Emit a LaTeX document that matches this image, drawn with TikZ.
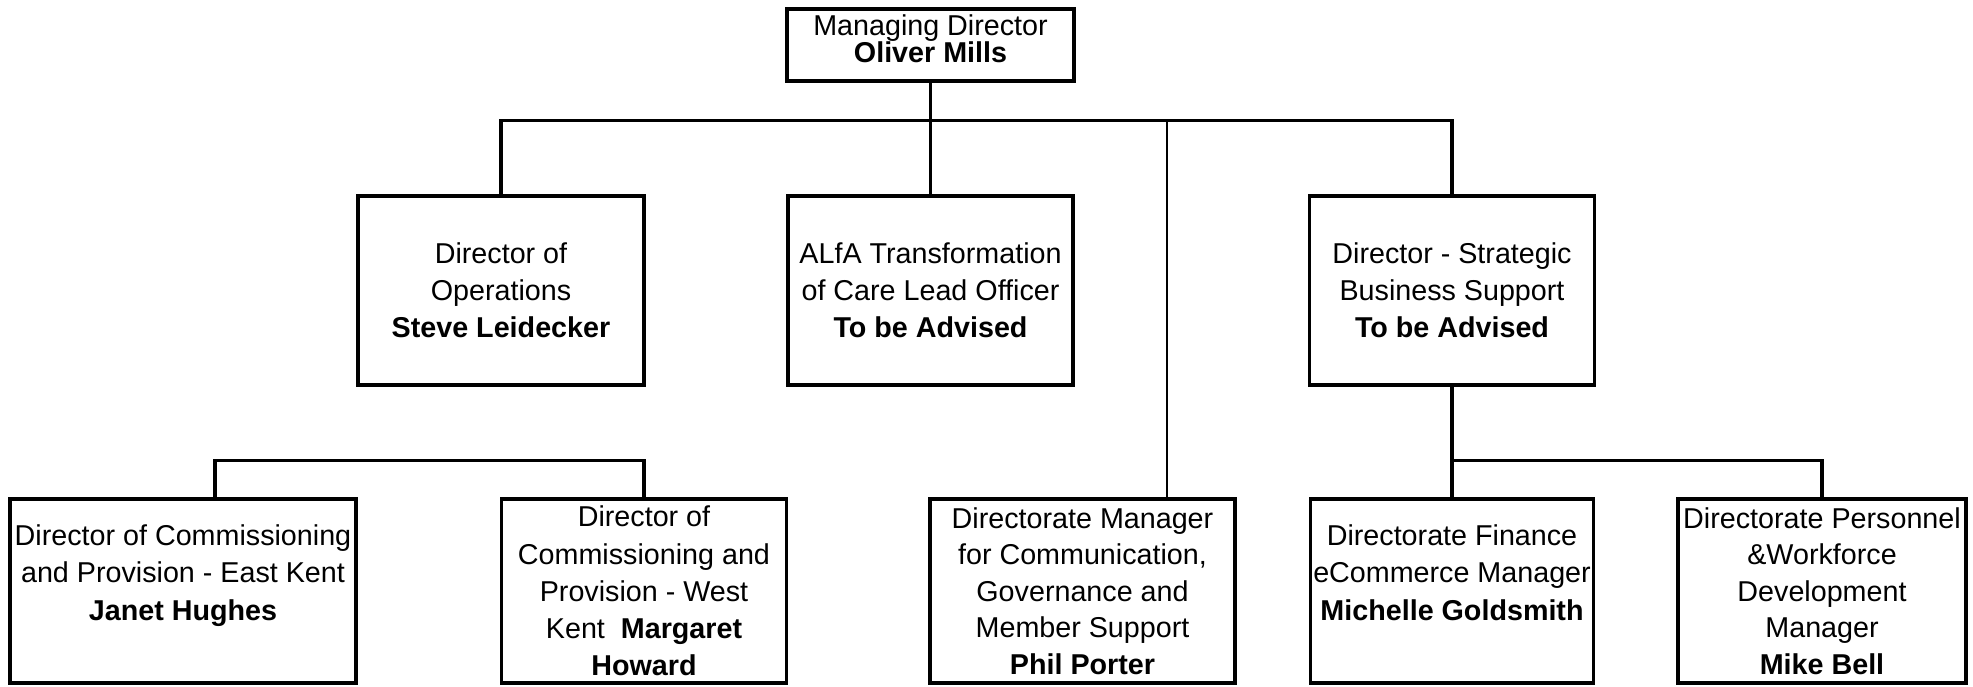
\documentclass[tikz,border=0pt]{standalone}
\usepackage{fontspec}
\setmainfont{Liberation Sans}
\begin{document}
\begin{tikzpicture}[x=0.5pt,y=-0.5pt,
  orgbox/.style={draw, line width=1.9pt, align=center, inner sep=0pt, outer sep=0pt,
    font=\fontsize{14.35}{18.6}\selectfont},
  conn/.style={line width=1.6pt, line join=miter},
  thinconn/.style={line width=1.1pt}]
\useasboundingbox (0,0) rectangle (1973,686);
% top
\node[orgbox, minimum width=143.5pt, minimum height=36pt, text depth=6.5pt,
  font=\fontsize{14.35}{13.8}\selectfont] (md) at (930.5,45)
  {Managing Director\\\textbf{Oliver Mills}};
% second row
\node[orgbox, minimum width=143pt, minimum height=94.5pt] (ops) at (501,290.5)
  {Director of\\Operations\\\textbf{Steve Leidecker}};
\node[orgbox, minimum width=142.5pt, minimum height=94.5pt] (alfa) at (930.5,290.5)
  {ALfA Transformation\\of Care Lead Officer\\\textbf{To be Advised}};
\node[orgbox, minimum width=142.5pt, minimum height=94.5pt] (dsbs) at (1452,290.5)
  {Director - Strategic\\Business Support\\\textbf{To be Advised}};
% bottom row
\node[orgbox, minimum width=173pt, minimum height=92pt] (jh) at (183,591)
  {Director of Commissioning\\and Provision - East Kent\\\textbf{Janet Hughes}\\\mbox{}};
\node[orgbox, minimum width=142.5pt, minimum height=92pt] (mh) at (644,591)
  {Director of\\Commissioning and\\Provision - West\\Kent\ \ \textbf{Margaret}\\\textbf{Howard}};
\node[orgbox, minimum width=152.5pt, minimum height=92pt, font=\fontsize{14.35}{18.3}\selectfont] (pp) at (1082.5,591)
  {Directorate Manager\\for Communication,\\Governance and\\Member Support\\\textbf{Phil Porter}};
\node[orgbox, minimum width=141.5pt, minimum height=92pt] (mg) at (1452,591)
  {Directorate Finance\\eCommerce Manager\\\textbf{Michelle Goldsmith}\\\mbox{}};
\node[orgbox, minimum width=144pt, minimum height=92pt, font=\fontsize{14.35}{18.3}\selectfont] (mb) at (1822,591)
  {Directorate Personnel\\\&Workforce\\Development\\Manager\\\textbf{Mike Bell}};
% connector coordinates
\coordinate (bar1) at (930.5,120.7);
\coordinate (ppc) at (1167,120.7);
\coordinate (lbL) at (215,460.7);
\coordinate (bar3) at (1452,460.7);
% connectors
\draw[conn] (md.south) -- (md.south |- bar1);
\draw[conn] (ops.north) -- (ops.north |- bar1) -- (dsbs.north |- bar1) -- (dsbs.north);
\draw[conn] (alfa.north) -- (alfa.north |- bar1);
\draw[thinconn] (ppc) -- (ppc |- pp.north);
\draw[conn] (lbL |- jh.north) -- (lbL) -- (mh.north |- lbL) -- (mh.north);
\draw[conn] (dsbs.south) -- (dsbs.south |- mg.north);
\draw[conn] (dsbs.south |- bar3) -- (mb.north |- bar3) -- (mb.north);
\end{tikzpicture}
\end{document}
